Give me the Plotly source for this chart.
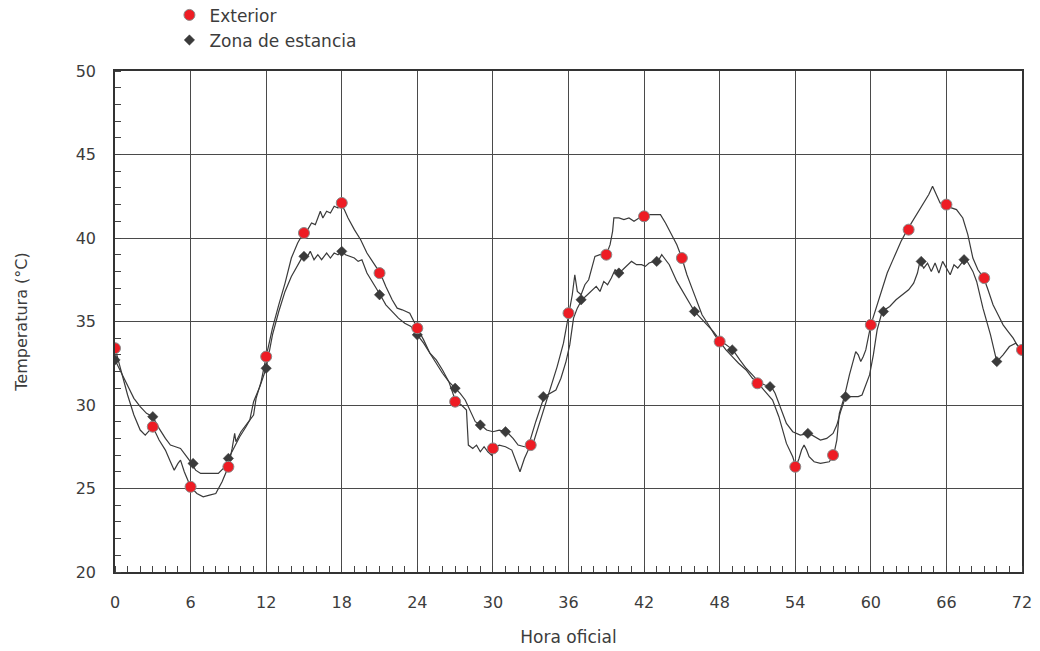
import plotly.graph_objects as go

# ---------------- data ----------------
ext_hours = [0, 0.5, 1.0, 1.5, 2.0, 2.4, 2.8, 3.0, 3.5, 4.0, 4.4, 4.7, 5.0, 5.2, 5.5, 5.8, 6.0, 6.5, 7.0, 7.5,
             8.0, 8.5, 9.0, 9.3, 9.5, 9.6, 10.0, 10.5, 11.0, 11.2, 11.6, 12.0, 12.5, 13.0, 13.5, 14.0, 14.5, 14.95,
             15.3, 15.6, 15.9, 16.1, 16.3, 16.5, 16.8, 17.1, 17.4, 17.7, 17.9, 18.2, 18.5, 19.0, 19.5, 20.0, 20.5,
             21.05, 21.5, 22.0, 22.4, 22.8, 23.4, 23.7, 24.0, 24.5, 25.0, 25.5, 26.0, 26.5, 27.05, 27.5, 27.9,
             28.05, 28.4, 28.7, 29.0, 29.3, 29.6, 29.9, 30.1, 30.5, 31.0, 31.5, 31.8, 32.15, 32.5, 32.8, 33.15,
             33.6, 34.1, 34.6, 35.1, 35.6, 36.05, 36.3, 36.5, 36.7, 37.0, 37.3, 37.6, 38.0, 38.1, 38.5, 39.0,
             39.3, 39.5, 39.6, 40.0, 40.4, 40.8, 41.2, 41.6, 42.0, 42.4, 42.8, 43.3, 43.7, 44.2, 44.6, 45.0,
             45.4, 45.8, 46.2, 46.6, 47.2, 47.6, 48.0, 48.5, 49.0, 49.5, 50.1, 50.6, 51.05, 51.7, 52.2, 52.7,
             53.0, 53.3, 53.8, 54.05, 54.3, 54.5, 54.7, 54.9, 55.1, 55.5, 56.0, 56.7, 57.05, 57.3, 57.5, 57.9,
             58.3, 58.6, 58.8, 59.0, 59.2, 59.4, 59.6, 60.0, 60.4, 60.9, 61.3, 61.7, 62.1, 62.4, 62.9, 63.3,
             63.7, 64.3, 64.6, 64.9, 65.2, 65.5, 65.9, 66.4, 66.8, 67.3, 67.7, 68.1, 68.5, 68.97, 69.3, 69.7,
             70.1, 70.5, 70.9, 71.3, 71.6, 72.0]
ext_temp = [33.4, 32.0, 30.6, 29.4, 28.5, 28.2, 28.5, 28.7, 27.9, 27.3, 26.6, 26.1, 26.5, 26.7, 26.0, 25.4, 25.1,
            24.7, 24.5, 24.6, 24.7, 25.4, 26.3, 27.4, 28.3, 27.8, 28.4, 28.9, 29.4, 30.4, 31.4, 32.9, 34.6, 36.0,
            37.3, 38.8, 39.7, 40.3, 40.5, 40.9, 40.8, 41.2, 41.6, 41.2, 41.6, 41.5, 41.9, 41.8, 42.1, 41.7, 41.2,
            40.5, 39.9, 39.1, 38.5, 37.9, 37.1, 36.3, 35.8, 35.7, 35.5, 35.0, 34.6, 33.9, 33.1, 32.7, 32.1, 31.4,
            30.2, 30.0, 29.7, 27.6, 27.4, 27.6, 27.2, 27.5, 27.2, 27.0, 27.4, 27.6, 27.5, 27.3, 26.7, 26.0, 26.8,
            27.3, 27.6, 28.7, 30.0, 31.1, 32.3, 33.7, 35.5, 36.6, 37.8, 36.8, 36.6, 37.2, 37.5, 38.6, 38.9, 39.0,
            39.0, 39.6, 40.4, 41.2, 41.2, 41.1, 41.2, 41.0, 41.2, 41.3, 41.4, 41.4, 41.4, 40.9, 40.2, 39.6, 38.8,
            37.8, 37.0, 36.2, 35.4, 34.7, 34.2, 33.8, 33.3, 32.9, 32.5, 32.1, 31.6, 31.3, 30.7, 30.3, 29.3, 28.5,
            27.7, 26.9, 26.3, 26.8, 27.3, 27.6, 27.3, 26.9, 26.6, 26.5, 26.6, 27.0, 27.9, 29.5, 30.5, 31.8, 32.7,
            33.2, 33.0, 32.6, 32.9, 33.3, 34.8, 35.8, 37.0, 37.9, 38.6, 39.3, 39.8, 40.5, 41.0, 41.5, 42.2, 42.6,
            43.1, 42.6, 42.1, 42.0, 41.8, 41.7, 41.2, 40.2, 38.8, 38.1, 37.6, 36.9, 36.0, 35.4, 34.8, 34.4, 34.0,
            33.6, 33.3]

zona_hours = [0, 0.5, 1.0, 1.5, 2.0, 2.5, 3.0, 3.5, 4.0, 4.4, 4.8, 5.2, 5.6, 6.0, 6.4, 6.8, 7.5, 8.2, 8.6, 9.0,
              9.4, 9.9, 10.4, 10.7, 11.0, 11.5, 12.0, 12.5, 13.0, 13.5, 14.0, 14.5, 14.9, 15.2, 15.5, 15.8, 16.1,
              16.4, 16.8, 17.1, 17.4, 17.7, 18.0, 18.3, 18.6, 19.0, 19.3, 19.6, 20.0, 20.5, 21.05, 21.5, 22.0,
              22.5, 23.0, 23.5, 24.0, 24.5, 25.0, 25.5, 26.0, 26.5, 27.0, 27.4, 27.8, 28.2, 28.6, 29.05, 29.5,
              30.0, 30.5, 31.1, 31.6, 32.0, 32.5, 32.8, 33.4, 34.07, 34.5, 35.0, 35.4, 35.8, 36.1, 36.4, 36.7,
              37.06, 37.5, 37.9, 38.2, 38.5, 38.8, 39.1, 39.4, 39.7, 40.0, 40.3, 40.6, 41.0, 41.4, 41.8, 42.1,
              42.4, 42.8, 43.1, 43.4, 43.7, 44.0, 44.6, 45.0, 45.4, 46.0, 46.5, 47.0, 47.5, 48.0, 48.5, 49.05,
              49.6, 50.1, 50.6, 51.2, 51.6, 52.1, 52.4, 52.7, 53.0, 53.3, 53.8, 54.4, 55.1, 55.5, 56.0, 56.5,
              57.0, 57.3, 57.6, 58.0, 58.5, 59.0, 59.3, 59.6, 59.9, 60.2, 60.5, 60.9, 61.5, 62.0, 62.5, 63.0,
              63.4, 63.7, 63.9, 64.2, 64.5, 64.8, 65.1, 65.4, 65.7, 66.0, 66.3, 66.6, 66.9, 67.2, 67.5, 67.8,
              68.1, 68.4, 68.9, 69.5, 70.0, 70.5, 71.0, 71.5, 72.0]
zona_temp = [32.7, 31.9, 31.1, 30.4, 29.9, 29.5, 29.3, 28.6, 28.0, 27.6, 27.5, 27.4, 27.0, 26.6, 26.1, 25.9, 25.9,
             25.9, 26.2, 26.8, 27.4, 28.1, 28.7, 29.1, 30.2, 31.1, 32.2, 34.2, 35.6, 36.8, 37.7, 38.4, 38.9, 38.8,
             39.2, 38.7, 39.0, 38.7, 39.1, 38.8, 39.1, 39.0, 39.2, 39.0, 38.9, 38.8, 38.6, 38.7, 37.9, 37.3, 36.6,
             36.0, 35.6, 35.2, 34.9, 34.7, 34.2, 33.7, 33.1, 32.5, 31.9, 31.4, 31.0, 30.7, 30.3, 29.6, 29.0, 28.8,
             28.5, 28.4, 28.5, 28.4, 28.0, 27.6, 27.5, 27.5, 29.0, 30.5, 30.7, 30.9, 31.6, 32.6, 33.6, 35.2, 35.8,
             36.3, 36.6, 36.9, 37.1, 36.8, 37.4, 37.2, 37.6, 38.1, 37.9, 38.1, 38.3, 38.6, 38.4, 38.4, 38.3, 38.5,
             38.6, 38.6, 39.0, 38.7, 38.4, 37.4, 36.9, 36.4, 35.6, 35.2, 34.8, 34.4, 33.9, 33.6, 33.3, 32.7, 32.2,
             31.8, 31.3, 31.2, 31.1, 30.7, 30.1, 29.4, 28.9, 28.4, 28.2, 28.3, 28.1, 27.9, 28.0, 28.3, 28.8, 29.6,
             30.5, 30.5, 30.5, 30.6, 31.2, 31.8, 33.0, 34.5, 35.6, 35.9, 36.3, 36.6, 36.9, 37.3, 37.9, 38.6, 38.2,
             38.5, 38.0, 38.5, 37.9, 38.6, 38.2, 37.8, 38.4, 38.2, 38.5, 38.8, 38.4, 38.0, 37.4, 35.8, 34.2, 32.6,
             33.0, 33.5, 33.7, 33.3]

ext_mark_hours = [0, 3, 6, 9, 12, 15, 18, 21, 24, 27, 30, 33, 36, 39, 42, 45, 48, 51, 54, 57, 60, 63, 66, 69, 72]
ext_mark_temp = [33.4, 28.7, 25.1, 26.3, 32.9, 40.3, 42.1, 37.9, 34.6, 30.2, 27.4, 27.6, 35.5, 39.0, 41.3, 38.8,
                 33.8, 31.3, 26.3, 27.0, 34.8, 40.5, 42.0, 37.6, 33.3]

zona_mark_hours = [0, 3, 6.2, 9, 12, 15, 18, 21, 24, 27, 29, 31, 34, 37, 40, 43, 46, 49, 52, 55, 58, 61, 64,
                   67.4, 70]
zona_mark_temp = [32.7, 29.3, 26.5, 26.8, 32.2, 38.9, 39.2, 36.6, 34.2, 31.0, 28.8, 28.4, 30.5, 36.3, 37.9, 38.6,
                  35.6, 33.3, 31.1, 28.3, 30.5, 35.6, 38.6, 38.7, 32.6]

x_ticks = list(range(0, 73, 6))
y_ticks = [20, 25, 30, 35, 40, 45, 50]

series_names = ["Exterior", "Zona de estancia"]

# ---------------- figure ----------------
LINE = "#3a3a3a"
GRID = "#4a4a4a"
TXT = "#3c3c3c"
FONT = "DejaVu Sans, Liberation Sans, Arial, sans-serif"

fig = go.Figure()
fig.add_trace(go.Scatter(x=ext_hours, y=ext_temp, mode="lines",
                         line=dict(color=LINE, width=1.2), showlegend=False, hoverinfo="skip"))
fig.add_trace(go.Scatter(x=zona_hours, y=zona_temp, mode="lines",
                         line=dict(color=LINE, width=1.2), showlegend=False, hoverinfo="skip"))
fig.add_trace(go.Scatter(x=zona_mark_hours, y=zona_mark_temp, mode="markers", name=series_names[1],
                         legendrank=2,
                         marker=dict(symbol="diamond", size=8, color="#3a3a3a",
                                     line=dict(color="#3a3a3a", width=0.5))))
fig.add_trace(go.Scatter(x=ext_mark_hours, y=ext_mark_temp, mode="markers", name=series_names[0],
                         legendrank=1,
                         marker=dict(symbol="circle", size=11, color="#ee1c24",
                                     line=dict(color="#8a8a8a", width=1))))

axis_common = dict(showline=True, linecolor="#333333", linewidth=1.5, mirror=True,
                   showgrid=True, gridcolor=GRID, gridwidth=1.3, zeroline=False,
                   ticks="", tickfont=dict(family=FONT, size=16, color=TXT))

fig.update_xaxes(range=[0, 72], tickvals=x_ticks, ticktext=[str(v) for v in x_ticks],
                 minor=dict(dtick=1, tick0=0, ticks="inside", ticklen=6, tickcolor="#444", tickwidth=1,
                            showgrid=False),
                 ticklabelstandoff=15,
                 title=dict(text="Hora oficial", font=dict(family=FONT, size=17, color=TXT), standoff=20),
                 **axis_common)
fig.update_yaxes(range=[20, 50], tickvals=y_ticks, ticktext=[str(v) for v in y_ticks],
                 minor=dict(dtick=1, tick0=20, ticks="inside", ticklen=6, tickcolor="#444", tickwidth=1,
                            showgrid=False),
                 ticklabelstandoff=14,
                 title=dict(text="Temperatura (°C)", font=dict(family=FONT, size=16, color=TXT), standoff=44),
                 **axis_common)

fig.update_layout(
    width=1040, height=651,
    margin=dict(l=115, r=18, t=71, b=79, autoexpand=False),
    paper_bgcolor="white", plot_bgcolor="white",
    font=dict(family=FONT, color=TXT),
    legend=dict(x=0.06, y=1.147, xanchor="left", yanchor="top", bgcolor="rgba(0,0,0,0)",
                font=dict(family=FONT, size=17, color=TXT), tracegroupgap=0, itemwidth=30,
                traceorder="normal"),
    showlegend=True,
)

fig.write_html("out.html")
